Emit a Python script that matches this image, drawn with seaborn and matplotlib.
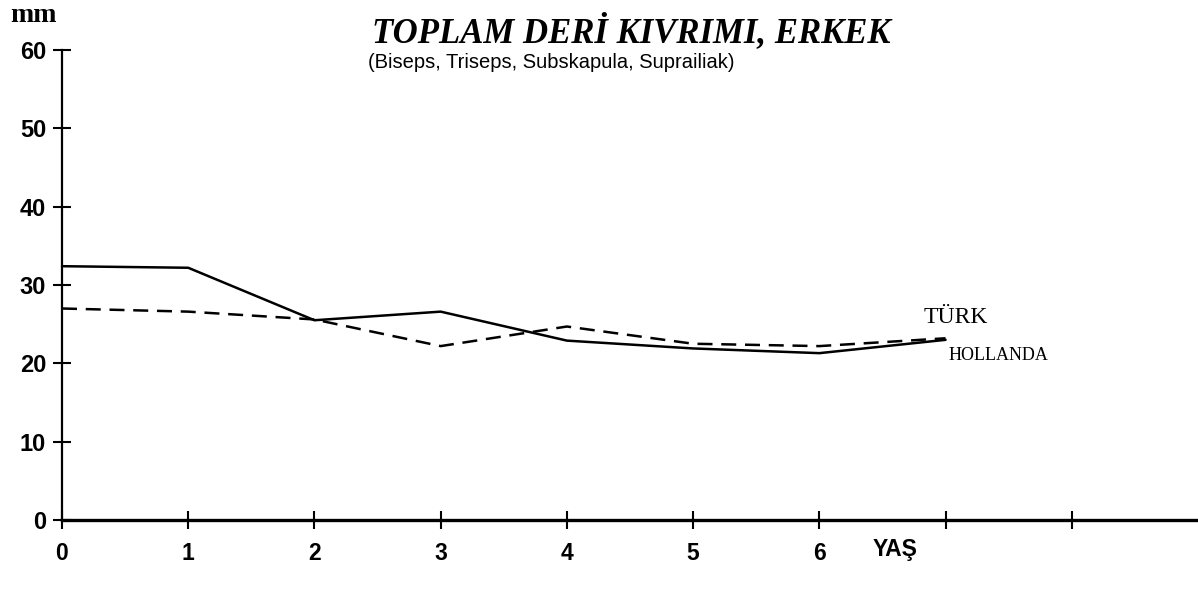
import matplotlib
matplotlib.use("Agg")
import matplotlib.pyplot as plt
import pandas as pd
import seaborn as sns

# Total skinfold (biceps + triceps + subscapular + suprailiac), boys, by age
ages = [0, 1, 2, 3, 4, 5, 6, 7]
hollanda = [32.4, 32.2, 25.5, 26.6, 22.9, 21.9, 21.3, 23.0]
turk = [27.0, 26.6, 25.6, 22.2, 24.7, 22.5, 22.2, 23.2]

x_ticks = [0, 1, 2, 3, 4, 5, 6, 7, 8]
x_tick_labels = ["0", "1", "2", "3", "4", "5", "6", "", ""]
y_ticks = [0, 10, 20, 30, 40, 50, 60]

title = "TOPLAM DERİ KIVRIMI, ERKEK"
subtitle = "(Biseps, Triseps, Subskapula, Suprailiak)"

sns.set_style("ticks")
plt.rcParams["font.family"] = ["Liberation Sans", "DejaVu Sans"]
plt.rcParams.update({
    "text.color": "black",
    "axes.labelcolor": "black",
    "xtick.color": "black",
    "ytick.color": "black",
})

df = pd.DataFrame({
    "yas": ages * 2,
    "mm": hollanda + turk,
    "grup": ["HOLLANDA"] * len(ages) + ["TÜRK"] * len(ages),
})

W, H = 1198, 596
fig = plt.figure(figsize=(W / 100, H / 100), dpi=100)
ax = fig.add_axes([62 / W, 1 - 520 / H, 1 - 62 / W, 470 / H])

sns.lineplot(
    data=df, x="yas", y="mm", style="grup",
    style_order=["HOLLANDA", "TÜRK"],
    dashes={"HOLLANDA": "", "TÜRK": (6, 3.5)},
    color="black", linewidth=1.8, estimator=None,
    legend=False, ax=ax, clip_on=False,
)

ax.set_xlim(0, 9)
ax.set_ylim(0, 60)
ax.set_xticks(x_ticks)
ax.set_xticklabels(x_tick_labels)
ax.set_yticks(y_ticks)
ax.set_yticklabels([str(v) for v in y_ticks])
ax.set_xlabel("")
ax.set_ylabel("")

for side in ("top", "right"):
    ax.spines[side].set_visible(False)
ax.spines["left"].set_linewidth(1.6)
ax.spines["bottom"].set_linewidth(2.4)
ax.spines["left"].set_color("black")
ax.spines["bottom"].set_color("black")

ax.tick_params(axis="y", left=True, direction="inout", length=13, width=1.5,
               color="black", pad=5, labelsize=17)
ax.tick_params(axis="x", bottom=True, direction="inout", length=13, width=1.5,
               color="black", pad=9, labelsize=16.5)
for lbl in ax.get_xticklabels() + ax.get_yticklabels():
    lbl.set_fontweight("bold")
for t in ax.xaxis.get_major_ticks() + ax.yaxis.get_major_ticks():
    t.tick1line.set_clip_on(False)

# axis names
fig.text(10 / W, 1 - 15 / H, "mm", ha="left", va="center",
         family="Liberation Serif", fontweight="bold", fontsize=20)
ax.text(6.6, -0.063, "YAŞ", transform=ax.get_xaxis_transform(),
        ha="center", va="center", fontweight="bold", fontsize=16.5)

# titles
fig.text(372 / W, 1 - 32 / H, title, ha="left", va="center",
         family="Liberation Serif", fontweight="bold", fontstyle="italic",
         fontsize=25)
fig.text(368 / W, 1 - 62 / H, subtitle, ha="left", va="center",
         fontsize=14.5)

# series names at the line ends
ax.annotate("TÜRK", xy=(ages[-1], turk[-1]), xytext=(-16, 15),
            textcoords="offset points", ha="left", va="center",
            family="Liberation Serif", fontsize=17)
ax.annotate("HOLLANDA", xy=(ages[-1], hollanda[-1]), xytext=(2, -11),
            textcoords="offset points", ha="left", va="center",
            family="Liberation Serif", fontsize=13)

fig.savefig("out.png", dpi=100, facecolor="white")
